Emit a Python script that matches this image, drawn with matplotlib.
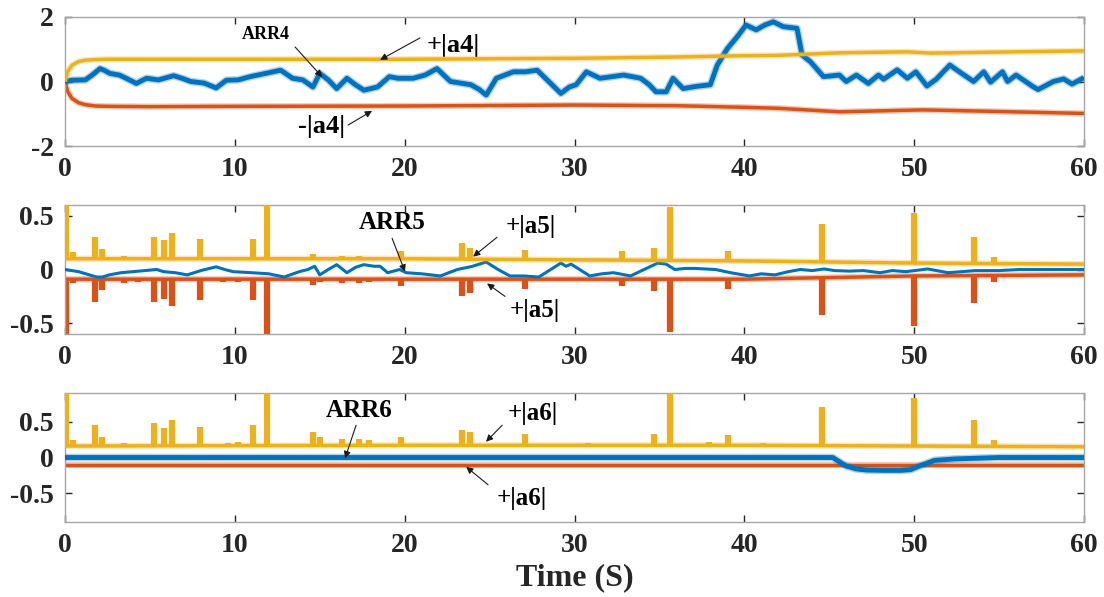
import numpy as np
import matplotlib.pyplot as plt

plt.rcParams['font.family'] = ['Liberation Serif', 'DejaVu Serif']
plt.rcParams['font.weight'] = 'bold'
plt.rcParams['axes.labelweight'] = 'bold'
plt.rcParams['axes.unicode_minus'] = False

BLUE = '#0072BD'
ORANGE = '#D95319'
YELLOW = '#EDB120'

# ---- panel 1 : ARR4 and its bounds
arr4_t = [0, 0.4, 1.2, 1.6, 2.06, 2.3, 2.65, 3.2, 3.6, 4.2, 4.8, 5.5, 6.4, 7.0, 7.4, 8.2, 8.9,
          9.5, 10.2, 10.9, 11.8, 12.7, 13.4, 14.0, 14.6, 15.0, 15.5, 16.0, 16.6, 17.1, 17.6,
          18.4, 19.1, 19.6, 20.5, 21.2, 21.9, 22.7, 23.3, 23.9, 24.4, 24.8, 25.4, 26.4, 27.1,
          27.8, 28.6, 29.2, 29.7, 30.1, 30.7, 31.5, 32.2, 32.9, 33.9, 34.4, 34.8, 35.4, 35.8,
          36.4, 37.2, 38.0, 38.4, 39.0, 39.6, 40.1, 40.7, 41.2, 41.7, 42.3, 43.1, 43.4, 43.9,
          44.66, 45.6, 46.0, 46.6, 47.3, 47.9, 48.2, 49.0, 49.6, 50.1, 50.75, 51.3, 52.1, 52.8,
          53.5, 54.1, 54.5, 55.2, 55.5, 56.0, 57.0, 57.3, 58.2, 58.8, 59.3, 60]
arr4_v = [0, 0.04, 0.05, 0.2, 0.4, 0.35, 0.25, 0.2, 0.1, -0.06, 0.1, 0.05, 0.18, 0.08, 0.0,
          -0.05, -0.2, 0.04, 0.05, 0.15, 0.25, 0.35, 0.1, 0.05, -0.17, 0.25, 0.05, -0.22, 0.1,
          -0.1, -0.27, -0.17, 0.15, 0.1, 0.1, 0.2, 0.4, 0.0, -0.05, -0.1, -0.25, -0.42, 0.1,
          0.3, 0.3, 0.35, -0.06, -0.37, -0.17, -0.1, 0.3, 0.1, 0.15, 0.2, 0.1, -0.1, -0.32,
          -0.32, 0.1, -0.22, -0.15, -0.1, 0.5, 1.02, 1.4, 1.75, 1.6, 1.75, 1.85, 1.7, 1.65,
          0.82, 0.61, 0.15, 0.2, 0.0, 0.2, -0.06, 0.2, 0.07, 0.36, 0.1, 0.3, -0.14, 0.07, 0.51,
          0.25, 0.0, 0.3, -0.02, 0.3, 0.0, 0.2, -0.16, -0.25, 0.0, 0.08, -0.08, 0.12]
a4p_t = [0, 0.15, 0.4, 0.8, 1.2, 1.8, 2.5, 4, 10, 20, 30, 36, 40, 42, 45.6, 49.6, 51, 55.9, 60]
a4p_v = [0, 0.3, 0.5, 0.62, 0.66, 0.68, 0.69, 0.69, 0.69, 0.69, 0.72, 0.76, 0.8, 0.81, 0.89,
         0.92, 0.88, 0.92, 0.95]
a4m_t = [0, 0.15, 0.4, 0.8, 1.2, 1.8, 2.5, 5, 10, 20, 30, 36, 40, 42, 45.6, 50.5, 55, 60]
a4m_v = [0, -0.3, -0.52, -0.66, -0.72, -0.76, -0.77, -0.78, -0.77, -0.76, -0.73, -0.75, -0.8,
         -0.83, -0.94, -0.88, -0.93, -0.99]

# ---- panel 2 : ARR5 and its bounds
arr5_t = [0, 0.8, 1.86, 2.2, 2.6, 3.3, 4, 4.7, 5.4, 5.8, 6.5, 7.2, 8.0, 8.9, 9.4, 9.9, 11,
          12.0, 12.9, 13.8, 14.3, 14.7, 15.0, 15.5, 16.0, 16.6, 17.1, 17.6, 18.2, 18.55, 19.0,
          19.7, 20.1, 21.0, 22.1, 23.1, 24.0, 24.8, 25.5, 26.2, 27.0, 27.9, 28.6, 29.2, 29.5,
          29.8, 30.3, 30.9, 31.6, 32.3, 33.3, 34.1, 34.9, 35.4, 35.9, 36.5, 37.1, 38.3, 39.2,
          40.3, 41.0, 41.8, 42.6, 43.3, 44.0, 44.7, 45.3, 46.2, 47.0, 48.0, 48.7, 49.5, 50.8,
          52, 53.6, 55, 56.2, 58, 60]
arr5_v = [0, -0.02, -0.07, -0.07, -0.05, -0.03, -0.02, -0.01, 0.0, -0.02, -0.03, -0.05, -0.01,
          0.025, 0.0, -0.02, -0.03, -0.04, -0.07, -0.02, 0.0, 0.03, -0.05, 0.0, 0.045, -0.03,
          0.02, 0.045, 0.03, 0.03, -0.03, 0.0, -0.03, -0.04, -0.06, 0.0, 0.03, 0.07, 0.0, -0.06,
          -0.06, -0.07, 0.0, 0.06, 0.03, 0.05, 0.0, -0.06, -0.04, -0.03, -0.06, 0.0, 0.06, 0.05,
          0.0, 0.01, 0.01, 0.0, -0.03, -0.06, -0.04, -0.05, -0.02, 0.0, -0.01, 0.005, -0.01,
          -0.015, -0.01, -0.03, -0.01, -0.02, 0.005, -0.03, -0.01, -0.01, 0.0, 0.0, 0.0]
a5_base_t = [0, 20, 40, 50, 60]
a5p_base = [0.1, 0.1, 0.08, 0.06, 0.05]
a5m_base = [-0.09, -0.09, -0.09, -0.06, -0.05]
spk5_t = [0.05, 0.5, 1.77, 2.16, 3.5, 4.3, 5.24, 5.83, 6.32, 7.95, 9.3, 10.2, 11.09, 11.88,
          14.6, 15.0, 16.3, 17.3, 17.9, 19.8, 23.4, 23.85, 27.1, 32.8, 34.7, 35.6, 39.05, 44.6,
          50.0, 53.55, 54.7]
spk5_up = [0.62, 0.16, 0.30, 0.19, 0.13, 0.12, 0.30, 0.27, 0.34, 0.28, 0.12, 0.12, 0.28, 0.62,
           0.14, 0.12, 0.13, 0.13, 0.12, 0.17, 0.25, 0.20, 0.18, 0.17, 0.20, 0.58, 0.17, 0.42,
           0.525, 0.30, 0.12]
spk5_dn = [-0.62, -0.13, -0.30, -0.19, -0.13, -0.12, -0.30, -0.27, -0.34, -0.28, -0.12, -0.12,
           -0.28, -0.62, -0.14, -0.12, -0.13, -0.13, -0.12, -0.15, -0.25, -0.22, -0.18, -0.15,
           -0.20, -0.58, -0.18, -0.42, -0.53, -0.31, -0.12]

# ---- panel 3 : ARR6 and its bounds
arr6_t = [0, 45.2, 45.6, 46.0, 46.6, 47.2, 48.2, 49.2, 49.8, 50.4, 51.2, 52.4, 55, 60]
arr6_v = [0, 0, -0.06, -0.12, -0.16, -0.175, -0.18, -0.18, -0.17, -0.11, -0.04, -0.02, 0, 0]
a6m_t = [0, 60]
a6m_v = [-0.105, -0.105]
a6_base_t = [0, 20, 40, 50, 60]
a6p_base = [0.16, 0.17, 0.17, 0.16, 0.15]
spk6_t = [0.05, 0.5, 1.77, 2.16, 3.5, 5.24, 5.83, 6.32, 7.95, 9.6, 10.2, 11.09, 11.88, 14.6,
          15.0, 16.3, 17.3, 17.9, 19.8, 23.4, 23.85, 27.1, 30.8, 34.7, 35.6, 37.9, 39.05, 41.1,
          44.6, 50.0, 53.55, 54.7]
spk6_up = [0.95, 0.24, 0.46, 0.29, 0.2, 0.48, 0.41, 0.53, 0.43, 0.2, 0.21, 0.45, 0.95, 0.36,
           0.28, 0.26, 0.26, 0.24, 0.29, 0.39, 0.35, 0.33, 0.2, 0.33, 0.95, 0.22, 0.31, 0.2,
           0.70, 0.83, 0.52, 0.25]


def fuzzy(ax, t, v, color, lw, z):
    ax.plot(t, v, color=color, lw=lw + 2, alpha=0.3, zorder=z, solid_capstyle='butt')
    ax.plot(t, v, color=color, lw=lw, zorder=z, solid_capstyle='butt')


def style(ax, ylim, yticks, ylabels):
    ax.set_xlim(0, 60)
    ax.set_ylim(*ylim)
    ax.set_xticks(range(0, 61, 10))
    ax.set_yticks(yticks)
    ax.set_yticklabels(ylabels)
    ax.tick_params(direction='in', top=True, right=True, length=5, width=1,
                   color='#262626', labelcolor='#262626', labelsize=20, pad=8)
    for s in ax.spines.values():
        s.set_color('#a6a6a6')
        s.set_linewidth(1)


def arrow(ax, head, tail):
    ax.annotate('', xy=head, xytext=tail,
                arrowprops=dict(arrowstyle='-|>', color='#1a1a1a', lw=0.8,
                                mutation_scale=10, shrinkA=0, shrinkB=0), zorder=10)


fig = plt.figure(figsize=(11.04, 5.97), dpi=100)
left, width, height = 65 / 1104, 1019 / 1104, 129 / 597
ax1 = fig.add_axes([left, 1 - 146 / 597, width, height])
ax2 = fig.add_axes([left, 1 - 334 / 597, width, height])
ax3 = fig.add_axes([left, 1 - 522 / 597, width, height])

# panel 1
fuzzy(ax1, a4m_t, a4m_v, ORANGE, 2.5, 2)
fuzzy(ax1, arr4_t, arr4_v, BLUE, 3.5, 3)
fuzzy(ax1, a4p_t, a4p_v, YELLOW, 2.5, 4)
style(ax1, (-2, 2), [-2, 0, 2], ['-2', '0', '2'])
ax1.text(11.84, 1.47, 'ARR4', fontsize=13, ha='center', va='center')
arrow(ax1, (15.14, 0.14), (13.55, 1.07))
ax1.text(22.85, 1.13, '+|a4|', fontsize=19, ha='center', va='center')
arrow(ax1, (18.55, 0.67), (20.9, 1.35))
ax1.text(15.08, -1.41, '-|a4|', fontsize=19, ha='center', va='center')
arrow(ax1, (18.08, -0.91), (16.67, -1.35))

# panel 2
fuzzy(ax2, a5_base_t, a5m_base, ORANGE, 2.5, 2)
ax2.vlines(spk5_t, np.interp(spk5_t, a5_base_t, a5m_base), spk5_dn, color=ORANGE, lw=4.5, zorder=2)
ax2.plot(arr5_t, arr5_v, color=BLUE, lw=2.2, zorder=3)
fuzzy(ax2, a5_base_t, a5p_base, YELLOW, 2.5, 4)
ax2.vlines(spk5_t, np.interp(spk5_t, a5_base_t, a5p_base), spk5_up, color=YELLOW, lw=4.5, zorder=4)
style(ax2, (-0.6, 0.6), [-0.5, 0, 0.5], ['-0.5', '0', '0.5'])
ax2.text(19.26, 0.44, 'ARR5', fontsize=18, ha='center', va='center')
arrow(ax2, (20.02, -0.02), (19.26, 0.29))
ax2.text(27.44, 0.40, '+|a5|', fontsize=18, ha='center', va='center')
arrow(ax2, (24.03, 0.12), (25.44, 0.30))
ax2.text(27.68, -0.38, '+|a5|', fontsize=18, ha='center', va='center')
arrow(ax2, (24.85, -0.13), (25.91, -0.25))

# panel 3
fuzzy(ax3, a6m_t, a6m_v, ORANGE, 2.5, 2)
fuzzy(ax3, arr6_t, arr6_v, BLUE, 3.5, 3)
fuzzy(ax3, a6_base_t, a6p_base, YELLOW, 2.5, 4)
ax3.vlines(spk6_t, np.interp(spk6_t, a6_base_t, a6p_base), spk6_up, color=YELLOW, lw=4.5, zorder=4)
style(ax3, (-0.9, 0.9), [-0.5, 0, 0.5], ['-0.5', '0', '0.5'])
ax3.text(17.31, 0.66, 'ARR6', fontsize=18, ha='center', va='center')
arrow(ax3, (16.49, -0.01), (17.14, 0.45))
ax3.text(27.56, 0.62, '+|a6|', fontsize=18, ha='center', va='center')
arrow(ax3, (24.79, 0.22), (25.74, 0.45))
ax3.text(26.91, -0.57, '+|a6|', fontsize=18, ha='center', va='center')
arrow(ax3, (23.62, -0.13), (24.91, -0.38))
ax3.set_xlabel('Time (S)', fontsize=23, fontweight='bold', color='#262626', labelpad=4)

fig.savefig('out.png', dpi=100)
